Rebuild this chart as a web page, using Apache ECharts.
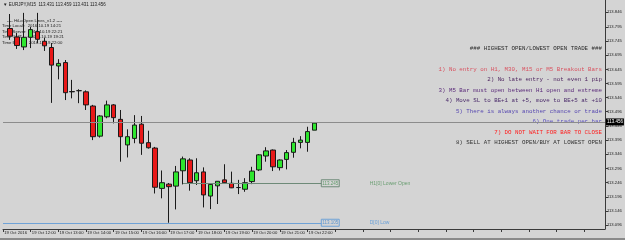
<!DOCTYPE html>
<html><head><meta charset="utf-8">
<script src="https://cdn.jsdelivr.net/npm/echarts@6/dist/echarts.min.js"></script>
<style>html,body{margin:0;padding:0;background:#d4d4d4}#c{width:625px;height:240px}</style>
</head><body><div id="c"></div>
<script>
// ---- data ----
const xTickLabels = ['19 Oct 2016','19 Oct 12:00','19 Oct 13:00','19 Oct 14:00','19 Oct 15:00','19 Oct 16:00','19 Oct 17:00','19 Oct 18:00','19 Oct 19:00','19 Oct 20:00','19 Oct 21:00','19 Oct 22:00'];
const slotsPerLabel = 4;
const totalSlots = 88;
const opens  = [113.789,113.759,113.724,113.758,113.778,113.744,113.722,113.657,113.669,113.567,113.570,113.566,113.516,113.410,113.478,113.520,113.469,113.379,113.402,113.452,113.387,113.368,113.226,113.241,113.234,113.288,113.326,113.253,113.284,113.199,113.235,113.256,113.244,113.229,113.223,113.250,113.291,113.340,113.361,113.299,113.328,113.353,113.388,113.388,113.431];
const closes = [113.762,113.729,113.758,113.785,113.751,113.728,113.660,113.666,113.563,113.566,113.570,113.520,113.408,113.481,113.520,113.475,113.408,113.408,113.449,113.385,113.369,113.230,113.246,113.232,113.284,113.330,113.246,113.281,113.203,113.240,113.251,113.246,113.228,113.229,113.246,113.287,113.344,113.358,113.302,113.326,113.352,113.388,113.396,113.426,113.456];
const lows   = [113.749,113.717,113.713,113.720,113.738,113.710,113.527,113.610,113.537,113.543,113.526,113.502,113.396,113.405,113.473,113.455,113.320,113.335,113.385,113.344,113.366,113.208,113.191,113.105,113.152,113.240,113.218,113.238,113.159,113.153,113.171,113.243,113.227,113.206,113.214,113.241,113.287,113.320,113.287,113.289,113.293,113.334,113.367,113.355,113.431];
const highs  = [113.840,113.773,113.844,113.794,113.844,113.756,113.738,113.681,113.678,113.608,113.575,113.571,113.520,113.484,113.535,113.523,113.502,113.434,113.484,113.481,113.429,113.372,113.289,113.245,113.305,113.338,113.332,113.332,113.300,113.243,113.252,113.311,113.285,113.256,113.262,113.302,113.347,113.371,113.363,113.328,113.361,113.404,113.410,113.443,113.459];
const yTickValues = [113.096,113.146,113.196,113.246,113.296,113.346,113.396,113.446,113.496,113.546,113.595,113.645,113.695,113.745,113.795,113.846];
const yTickLabels = ['113.096','113.146','113.196','113.246','113.296','113.346','113.396','113.446','113.496','113.546','113.595','113.645','113.695','113.745','113.795','113.846'];
const bidPrice = 113.456;
const h1LowerOpen = 113.244;
const h1LowerOpenLabel = '113.245';
const dayLow = 113.105;
const dayLowLabel = '113.105';
const headerText = '\u25BC EURJPY,M15  113.431 113.459 113.431 113.456';
const panelLines = ['---- HiLoOpen Lines_v1.2 ----','Time Local :  2016.10.19 14:21','Time Server:  2016.10.19 22:21','Time GMT    :  2016.10.19 19:21','Time Bar     :  2016.10.19 22:00'];
const ruleTexts = ['### HIGHEST OPEN/LOWEST OPEN TRADE ###','1) No entry on H1, M30, M15 or M5 Breakout Bars','2) No late entry - not even 1 pip','3) M5 Bar must open between H1 open and extreme','4) Move SL to BE+1 at +5, move to BE+5 at +10','5) There is always another chance or trade','6) One trade per bar','7) DO NOT WAIT FOR BAR TO CLOSE','8) SELL AT HIGHEST OPEN/BUY AT LOWEST OPEN'];
const ruleColors = ['#2a2a2a','#d9505e','#4e2660','#5a2a7a','#4a2a6a','#5546b0','#5a50c0','#ff1c1c','#333333'];

// ---- build ----
const categories = [];
for (let k = 0; k < totalSlots; k++) {
  const j = k / slotsPerLabel;
  categories.push(Number.isInteger(j) && j < xTickLabels.length ? xTickLabels[j] : ' ' + k);
}
const candleData = ['-'];
for (let i = 0; i < opens.length; i++) candleData.push([opens[i], closes[i], lows[i], highs[i]]);
while (candleData.length < totalSlots) candleData.push('-');

const graphics = [];
graphics.push({type:'text', style:{text: headerText, x: 3, y: 5, verticalAlign:'middle', font:'4.5px "Liberation Sans"', fill:'#1a1a1a'}});
const panelY = [21, 26, 31.5, 37, 42.5];
panelLines.forEach((t, i) => graphics.push({type:'text', style:{text:t, x: i===0?7:2, y: panelY[i], verticalAlign:'middle', font:'4.3px "Liberation Sans"', fill:'#1a1a1a'}}));
const ruleY = [48, 69, 79.5, 90, 100.5, 111, 121.5, 132, 142];
ruleTexts.forEach((t, i) => graphics.push({type:'text', style:{text:t, x: 602, y: ruleY[i], align:'right', verticalAlign:'middle', font:'5.8px "Liberation Mono"', fill: ruleColors[i]}}));
graphics.push({type:'rect', shape:{x:0, y:238, width:625, height:2}, style:{fill:'#8a8a8a'}});

const chart = echarts.init(document.getElementById('c'), null, {renderer:'canvas'});
chart.setOption({
  backgroundColor: '#d4d4d4',
  animation: false,
  grid: {left: 1, right: 20, top: 0, bottom: 11},
  xAxis: {
    type: 'category', data: categories, boundaryGap: false,
    axisLine: {lineStyle: {color: '#3a3a3a', width: 1}},
    axisTick: {show: true, length: 3, inside: false, interval: slotsPerLabel - 1, lineStyle: {color: '#3a3a3a'}},
    axisLabel: {interval: slotsPerLabel - 1, align: 'left', margin: 2, fontSize: 4.2, fontFamily: 'Liberation Sans', color: '#222',
      formatter: v => v.startsWith(' ') ? '' : ' ' + v},
    splitLine: {show: false}
  },
  yAxis: {
    type: 'value', position: 'right', min: 113.083, max: 113.8893, scale: true,
    axisLine: {show: true, lineStyle: {color: '#3a3a3a', width: 1}},
    axisTick: {show: true, length: 3, customValues: yTickValues, lineStyle: {color: '#3a3a3a'}},
    axisLabel: {customValues: yTickValues, margin: 2, fontSize: 4.2, fontFamily: 'Liberation Sans', color: '#222',
      formatter: v => { let b = 0; yTickValues.forEach((t, i) => { if (Math.abs(t - v) < Math.abs(yTickValues[b] - v)) b = i; }); return yTickLabels[b]; }},
    splitLine: {show: false}
  },
  series: [{
    type: 'candlestick', data: candleData, barWidth: 5,
    itemStyle: {color: '#2ee62e', color0: '#e81818', borderColor: '#1a1a1a', borderColor0: '#1a1a1a', borderWidth: 1},
    markLine: {
      silent: true, symbol: 'none', animation: false,
      data: [
        {yAxis: bidPrice, lineStyle: {color: '#8c8c8c', type: 'solid', width: 1},
          label: {show: true, position: 'end', distance: 1, formatter: bidPrice.toFixed(3), backgroundColor: '#000', color: '#fff', fontSize: 4.5, fontFamily: 'Liberation Sans', padding: [1, 1]}},
        [{coord: [26, h1LowerOpen], lineStyle: {color: '#6e8a78', type: 'solid', width: 1},
          label: {show: true, position: 'end', distance: 0, formatter: h1LowerOpenLabel, color: '#5f9a6a', borderColor: '#6e8a78', borderWidth: 1, fontSize: 4.5, fontFamily: 'Liberation Sans', padding: [1, 1]}},
         {coord: [46, h1LowerOpen]}],
        [{coord: [0, dayLow], lineStyle: {color: '#6fa2d6', type: 'solid', width: 1},
          label: {show: true, position: 'end', distance: 0, formatter: dayLowLabel, color: '#5b95d0', borderColor: '#6fa2d6', borderWidth: 1, fontSize: 4.5, fontFamily: 'Liberation Sans', padding: [1, 1]}},
         {coord: [46, dayLow]}]
      ]
    },
    markPoint: {
      silent: true, symbol: 'circle', symbolSize: 0, animation: false,
      data: [
        {coord: [53, h1LowerOpen], label: {show: true, position: 'right', distance: 0, formatter: 'H1[0] Lower Open', color: '#6a9e72', fontSize: 5, fontFamily: 'Liberation Sans'}},
        {coord: [53, dayLow], label: {show: true, position: 'right', distance: 0, formatter: 'D[0] Low', color: '#6aa0d8', fontSize: 5, fontFamily: 'Liberation Sans'}}
      ]
    }
  }],
  graphic: graphics
});
</script></body></html>
